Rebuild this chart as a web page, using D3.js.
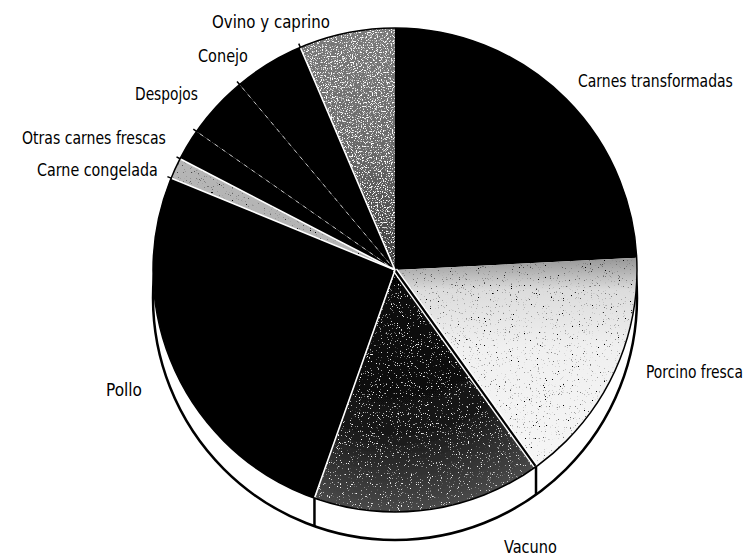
<!DOCTYPE html>
<html>
<head>
<meta charset="utf-8">
<script src="https://cdn.jsdelivr.net/npm/d3@7"></script>
<style>
  html, body { margin: 0; padding: 0; background: #fff; }
  svg { display: block; }
  text { font-family: "Liberation Sans Narrow", "DejaVu Sans Condensed", "Roboto", sans-serif; font-size: 18px; fill: #000; }
</style>
</head>
<body>
<div id="chart"></div>
<script>
// meat consumption shares (%), clockwise from 12 o'clock
var categories = ["Carnes transformadas", "Porcino fresca", "Vacuno", "Pollo", "Carne congelada",
                  "Otras carnes frescas", "Despojos", "Conejo", "Ovino y caprino"];
var shares = [24.2, 15.9, 15.3, 25.8, 1.4, 2.1, 4.2, 4.7, 6.4];

// label placement (layout only): x, baseline y, anchor, width
var labelLayout = [
  [578, 87, "start", 155],
  [646, 378, "start", 97],
  [504, 553, "start", 53],
  [142, 396, "end", 36],
  [37, 176, "start", 121],
  [22, 144, "start", 144],
  [135, 100, "start", 63],
  [198, 62, "start", 50],
  [212, 28, "start", 118]
];

var width = 746, height = 560;
var cx = 395, cy = 270, radius = 242, depth = 28;

var svg = d3.select("#chart").append("svg")
    .attr("width", width)
    .attr("height", height);

svg.append("rect").attr("width", width).attr("height", height).attr("fill", "#fff");

var defs = svg.append("defs");

// speckle filters, to fake the scanned stipple
function grain(id, dotCol, thr, freq, seed) {
  var f = defs.append("filter").attr("id", id)
      .attr("x", "-5%").attr("y", "-5%").attr("width", "110%").attr("height", "110%");
  f.append("feTurbulence").attr("type", "fractalNoise")
      .attr("baseFrequency", freq).attr("numOctaves", 2).attr("seed", seed).attr("result", "t");
  var c = dotCol === "white" ? 1 : 0;
  f.append("feColorMatrix").attr("in", "t").attr("type", "matrix")
      .attr("values", "0 0 0 0 " + c + "  0 0 0 0 " + c + "  0 0 0 0 " + c + "  8 0 0 0 " + (-8 * thr))
      .attr("result", "dots");
  f.append("feComposite").attr("in", "dots").attr("in2", "SourceGraphic")
      .attr("operator", "in").attr("result", "clip");
  var m = f.append("feMerge");
  m.append("feMergeNode").attr("in", "SourceGraphic");
  m.append("feMergeNode").attr("in", "clip");
}
grain("dotsDark", "black", 0.67, 0.85, 4);
grain("dotsWhite", "white", 0.66, 0.9, 7);
grain("dotsWhiteDense", "white", 0.56, 0.8, 11);

var porcGrad = defs.append("linearGradient").attr("id", "porcGrad")
    .attr("gradientUnits", "userSpaceOnUse").attr("x1", 0).attr("y1", -10).attr("x2", 0).attr("y2", 240);
porcGrad.append("stop").attr("offset", 0).attr("stop-color", "#9a9a9a");
porcGrad.append("stop").attr("offset", 0.12).attr("stop-color", "#dcdcdc");
porcGrad.append("stop").attr("offset", 0.35).attr("stop-color", "#f0f0f0");
porcGrad.append("stop").attr("offset", 1).attr("stop-color", "#f8f8f8");

var vacGrad = defs.append("radialGradient").attr("id", "vacGrad")
    .attr("gradientUnits", "userSpaceOnUse").attr("cx", 0).attr("cy", 0).attr("r", radius);
vacGrad.append("stop").attr("offset", 0).attr("stop-color", "#050505");
vacGrad.append("stop").attr("offset", 0.65).attr("stop-color", "#141414");
vacGrad.append("stop").attr("offset", 1).attr("stop-color", "#4a4a4a");

var ovGrad = defs.append("linearGradient").attr("id", "ovGrad")
    .attr("gradientUnits", "userSpaceOnUse").attr("x1", 0).attr("y1", -radius).attr("x2", 0).attr("y2", 0);
ovGrad.append("stop").attr("offset", 0).attr("stop-color", "#7a7a7a");
ovGrad.append("stop").attr("offset", 0.5).attr("stop-color", "#6a6a6a");
ovGrad.append("stop").attr("offset", 1).attr("stop-color", "#3c3c3c");

var sliceFill = {
  "Carnes transformadas": ["#000", null],
  "Porcino fresca": ["url(#porcGrad)", "dotsDark"],
  "Vacuno": ["url(#vacGrad)", "dotsWhite"],
  "Pollo": ["#000", null],
  "Carne congelada": ["#b5b5b5", "dotsDark"],
  "Otras carnes frescas": ["#000", null],
  "Despojos": ["#000", null],
  "Conejo": ["#000", null],
  "Ovino y caprino": ["url(#ovGrad)", "dotsWhiteDense"]
};

// line drawn at the start edge of each slice
var edgeStyle = {
  "Carnes transformadas": null,
  "Porcino fresca": null,
  "Vacuno": "blackBoxed",
  "Pollo": "white",
  "Carne congelada": "white",
  "Otras carnes frescas": "white",
  "Despojos": "dashed",
  "Conejo": "dashed",
  "Ovino y caprino": "white"
};

var pie = d3.pie().sort(null).value(function(d) { return d.value; });
var arcs = pie(categories.map(function(c, i) { return {name: c, value: shares[i]}; }));
var arc = d3.arc().innerRadius(0).outerRadius(radius);

var g = svg.append("g").attr("transform", "translate(" + cx + "," + cy + ")");

// side wall of the "thick" pie
g.append("circle")
    .attr("cx", 0).attr("cy", depth).attr("r", radius)
    .attr("fill", "#fff").attr("stroke", "#000").attr("stroke-width", 2.5);

arcs.forEach(function(d) {
  var p = d3.pointRadial(d.startAngle, radius);
  if (p[1] > 5) {
    g.append("line")
        .attr("x1", p[0]).attr("y1", p[1]).attr("x2", p[0]).attr("y2", p[1] + depth)
        .attr("stroke", "#000").attr("stroke-width", 2.5);
  }
});

// top face
g.selectAll("path.slice")
  .data(arcs)
  .enter().append("path")
    .attr("class", "slice")
    .attr("d", arc)
    .attr("fill", function(d) { return sliceFill[d.data.name][0]; })
    .attr("filter", function(d) {
      var f = sliceFill[d.data.name][1];
      return f ? "url(#" + f + ")" : null;
    });

g.append("circle")
    .attr("r", radius)
    .attr("fill", "none").attr("stroke", "#000").attr("stroke-width", 1.5);

// slice edges
arcs.forEach(function(d) {
  var st = edgeStyle[d.data.name];
  if (!st) return;
  var p = d3.pointRadial(d.startAngle, radius - 1);
  if (st === "blackBoxed") {
    g.append("line").attr("x1", 0).attr("y1", 0).attr("x2", p[0]).attr("y2", p[1])
        .attr("stroke", "#fff").attr("stroke-width", 5);
    g.append("line").attr("x1", 0).attr("y1", 0).attr("x2", p[0]).attr("y2", p[1])
        .attr("stroke", "#000").attr("stroke-width", 2.2);
  } else if (st === "white") {
    g.append("line").attr("x1", 0).attr("y1", 0).attr("x2", p[0]).attr("y2", p[1])
        .attr("stroke", "#fff").attr("stroke-width", 1.6);
  } else {
    g.append("line").attr("x1", 0).attr("y1", 0).attr("x2", p[0]).attr("y2", p[1])
        .attr("stroke", "#fff").attr("stroke-width", 1)
        .attr("stroke-dasharray", "4,5").attr("opacity", 0.7);
  }
});

// little tick marks on the rim at the small slices
arcs.forEach(function(d) {
  if (d.startAngle < Math.PI * 1.55) return;
  var a = d3.pointRadial(d.startAngle, radius);
  var b = d3.pointRadial(d.startAngle, radius + 4);
  g.append("line").attr("x1", a[0]).attr("y1", a[1]).attr("x2", b[0]).attr("y2", b[1])
      .attr("stroke", "#000").attr("stroke-width", 1.5);
});

// labels: squeeze each one horizontally to the narrow face of the original
svg.selectAll("text.lbl")
  .data(arcs)
  .enter().append("text")
    .attr("class", "lbl")
    .attr("text-anchor", function(d, i) { return labelLayout[i][2]; })
    .text(function(d) { return d.data.name; })
    .each(function(d, i) {
      var L = labelLayout[i];
      var natural = this.getComputedTextLength();
      var sx = natural > 0 ? L[3] / natural : 1;
      d3.select(this).attr("transform",
          "translate(" + L[0] + "," + L[1] + ") scale(" + sx + ",1)");
    });
</script>
</body>
</html>
